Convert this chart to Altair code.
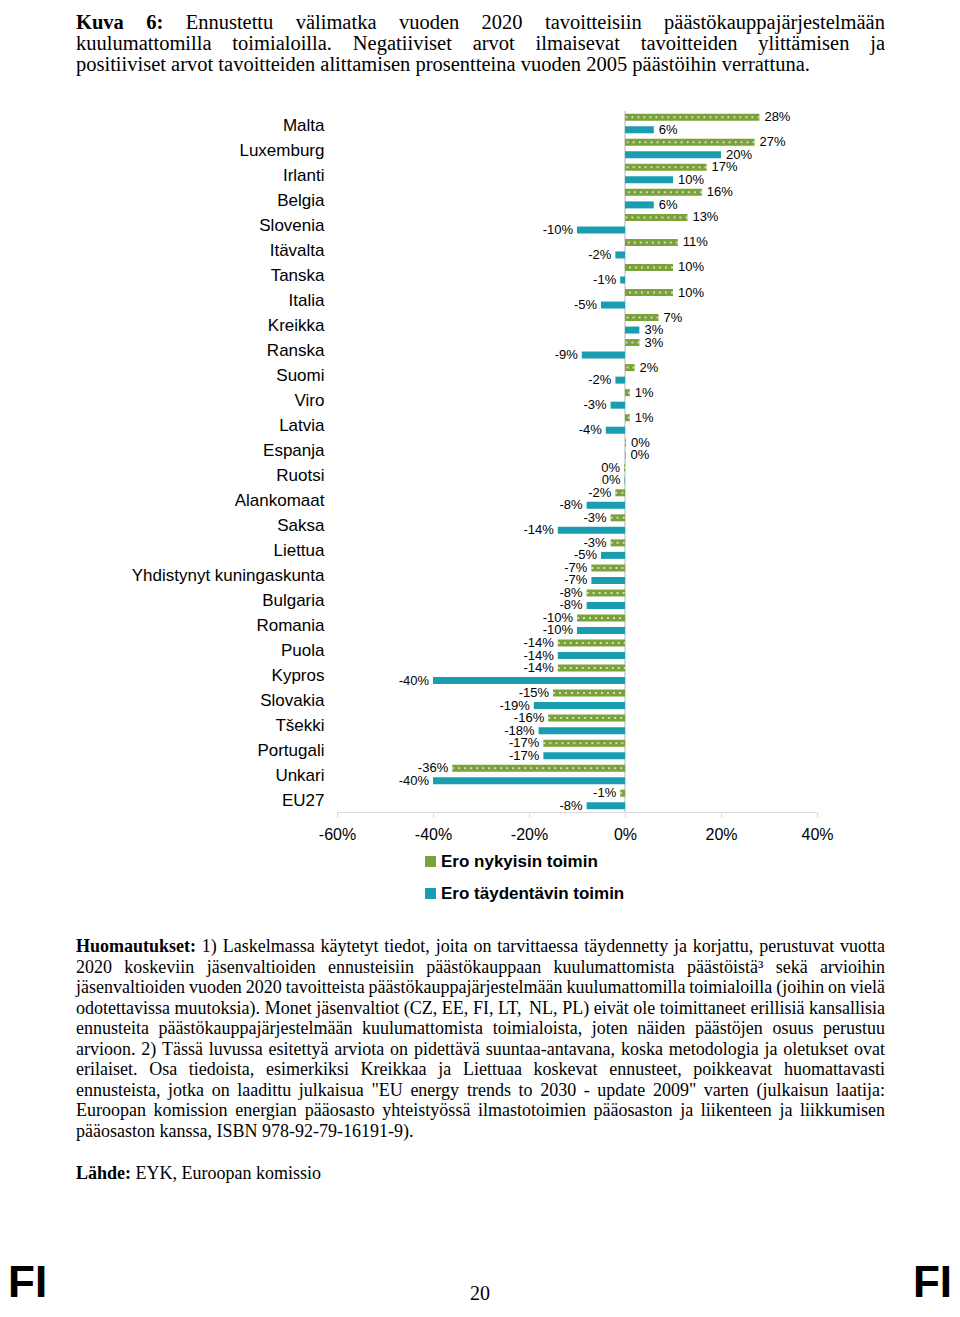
import altair as alt
import pandas as pd

# ---------------- data ----------------
countries = ["Malta", "Luxemburg", "Irlanti", "Belgia", "Slovenia", "Itävalta", "Tanska",
             "Italia", "Kreikka", "Ranska", "Suomi", "Viro", "Latvia", "Espanja", "Ruotsi",
             "Alankomaat", "Saksa", "Liettua", "Yhdistynyt kuningaskunta", "Bulgaria",
             "Romania", "Puola", "Kypros", "Slovakia", "Tšekki", "Portugali", "Unkari", "EU27"]
current_measures = [28, 27, 17, 16, 13, 11, 10, 10, 7, 3, 2, 1, 1, 0.2, -0.2, -2, -3, -3,
                    -7, -8, -10, -14, -14, -15, -16, -17, -36, -1]
additional_measures = [6, 20, 10, 6, -10, -2, -1, -5, 3, -9, -2, -3, -4, 0.1, -0.1, -8, -14,
                       -5, -7, -8, -10, -14, -40, -19, -18, -17, -40, -8]
series = ["Ero nykyisin toimin", "Ero täydentävin toimin"]
x_ticks = [-60, -40, -20, 0, 20, 40]

title_lines = [
    "Kuva 6: Ennustettu välimatka vuoden 2020 tavoitteisiin päästökauppajärjestelmään",
    "kuulumattomilla toimialoilla. Negatiiviset arvot ilmaisevat tavoitteiden ylittämisen ja",
    "positiiviset arvot tavoitteiden alittamisen prosentteina vuoden 2005 päästöihin verrattuna.",
]
note_lines = [
    "Huomautukset: 1) Laskelmassa käytetyt tiedot, joita on tarvittaessa täydennetty ja korjattu, perustuvat vuotta",
    "2020 koskeviin jäsenvaltioiden ennusteisiin päästökauppaan kuulumattomista päästöistä³ sekä arvioihin",
    "jäsenvaltioiden vuoden 2020 tavoitteista päästökauppajärjestelmään kuulumattomilla toimialoilla (joihin on vielä",
    "odotettavissa muutoksia). Monet jäsenvaltiot (CZ, EE, FI, LT, NL, PL) eivät ole toimittaneet erillisiä kansallisia",
    "ennusteita päästökauppajärjestelmään kuulumattomista toimialoista, joten näiden päästöjen osuus perustuu",
    "arvioon. 2) Tässä luvussa esitettyä arviota on pidettävä suuntaa-antavana, koska metodologia ja oletukset ovat",
    "erilaiset. Osa tiedoista, esimerkiksi Kreikkaa ja Liettuaa koskevat ennusteet, poikkeavat huomattavasti",
    "ennusteista, jotka on laadittu julkaisua \"EU energy trends to 2030 - update 2009\" varten (julkaisun laatija:",
    "Euroopan komission energian pääosasto yhteistyössä ilmastotoimien pääosaston ja liikenteen ja liikkumisen",
    "pääosaston kanssa, ISBN 978-92-79-16191-9).",
]
source_line = "Lähde: EYK, Euroopan komissio"
page_number = "20"
corner_mark = "FI"
bold_words = {"Kuva", "6:", "Huomautukset:", "Lähde:"}

GREEN = "#7AA13A"
TEAL = "#1A9CB1"

# ---------------- chart table ----------------
rows = []
for c, g, t in zip(countries, current_measures, additional_measures):
    for s, v in ((series[0], g), (series[1], t)):
        rows.append({"country": c, "series": s, "value": v, "label": f"{round(v)}%"})
df = pd.DataFrame(rows)

# ---------------- text layout (Times metrics) ----------------
OX, OY = 337, 111  # page position of the plot area
REG = {' ': 250, 'a': 444, 'b': 500, 'c': 444, 'd': 500, 'e': 444, 'f': 333, 'g': 500, 'h': 500,
       'i': 278, 'j': 278, 'k': 500, 'l': 278, 'm': 778, 'n': 500, 'o': 500, 'p': 500, 'q': 500,
       'r': 333, 's': 389, 't': 278, 'u': 500, 'v': 500, 'w': 722, 'x': 500, 'y': 500, 'z': 444,
       'ä': 444, 'ö': 500, 'å': 444, 'A': 722, 'B': 667, 'C': 667, 'D': 722, 'E': 611, 'F': 556,
       'G': 722, 'H': 722, 'I': 333, 'J': 389, 'K': 722, 'L': 611, 'M': 889, 'N': 722, 'O': 722,
       'P': 556, 'Q': 722, 'R': 667, 'S': 556, 'T': 611, 'U': 722, 'V': 722, 'W': 944, 'X': 722,
       'Y': 722, 'Z': 611, '.': 250, ',': 250, ':': 278, ';': 278, '(': 333, ')': 333, '-': 333,
       '"': 408, '³': 300}
BLD = {'H': 778, 'u': 556, 'o': 500, 'm': 833, 'a': 500, 't': 333, 'k': 556, 's': 389, 'e': 444,
       ':': 333, 'K': 778, 'v': 500, '6': 500, 'L': 667, 'ä': 500, 'h': 556, 'd': 556}


def layout(line, left, right, base_y, size, justify):
    words = line.split(" ")
    widths = []
    for w in words:
        table = BLD if w in bold_words else REG
        widths.append(sum(table.get(ch, 500) for ch in w) * size / 1000.0)
    if justify and len(words) > 1:
        gap = (right - left - sum(widths)) / (len(words) - 1)
    else:
        gap = 250 * size / 1000.0
    out = []
    x = left
    for w, wd in zip(words, widths):
        out.append({"px": x - OX, "py": base_y - OY, "word": w, "fs": size, "bold": w in bold_words})
        x += wd + gap
    return out


words = []
title_baselines = [29, 50, 71]
for i, ln in enumerate(title_lines):
    words += layout(ln, 76, 885, title_baselines[i], 20.5, i < len(title_lines) - 1)
for i, ln in enumerate(note_lines):
    words += layout(ln, 76, 885, 952 + 20.5 * i, 18, i < len(note_lines) - 1)
words += layout(source_line, 76, 885, 1179, 18, False)
words += layout(page_number, 470, 490, 1300, 20, False)
words_df = pd.DataFrame(words)

# ---------------- chart layers ----------------
font = "Liberation Sans"
y_enc = alt.Y("country:N", sort=countries,
              scale=alt.Scale(paddingInner=0, paddingOuter=0),
              axis=alt.Axis(title=None, domain=False, ticks=False, tickSize=0, labelPadding=13,
                            labelOffset=2, labelFontSize=17, labelFont=font, labelColor="black",
                            labelLimit=400))
yoff_enc = alt.YOffset("series:N", sort=series, scale=alt.Scale(paddingInner=0.44, paddingOuter=0.22))
x_enc = alt.X("value:Q", stack=None,
              scale=alt.Scale(domain=[-60, 40], nice=False),
              axis=alt.Axis(values=x_ticks, labelExpr="datum.value + '%'", grid=False, title=None,
                            domainColor="#d9d9d9", tickColor="#d9d9d9", tickSize=5,
                            labelFlush=False, labelOverlap=False,
                            labelFontSize=16, labelFont=font, labelColor="black", labelPadding=9))

base = alt.Chart(df)

zero = base.mark_rule(color="#d9d9d9", strokeWidth=1).encode(x=alt.datum(0))

bars = base.mark_bar().encode(
    y=y_enc, yOffset=yoff_enc, x=x_enc,
    color=alt.Color("series:N", sort=series,
                    scale=alt.Scale(domain=series, range=[GREEN, TEAL]),
                    legend=alt.Legend(title=None, orient="none", legendX=85, legendY=742,
                                      direction="vertical", symbolType="square", symbolSize=121,
                                      symbolStrokeWidth=0, labelFontSize=17, labelFontWeight="bold",
                                      labelFont=font, labelColor="black", rowPadding=14,
                                      labelOffset=2, labelLimit=400, padding=0)),
)

pattern = base.transform_filter(alt.datum.series == series[0]).mark_rule(
    color="white", strokeDash=[2, 4], strokeWidth=2, opacity=0.65
).encode(y=y_enc, yOffset=yoff_enc, x=x_enc, x2=alt.datum(0))

lab_pos = base.transform_filter("datum.value >= 0").mark_text(
    align="left", baseline="middle", dx=5, fontSize=13, font=font, color="black"
).encode(y=y_enc, yOffset=yoff_enc, x=x_enc, text="label:N")

lab_neg = base.transform_filter("datum.value < 0").mark_text(
    align="right", baseline="middle", dx=-4, fontSize=13, font=font, color="black"
).encode(y=y_enc, yOffset=yoff_enc, x=x_enc, text="label:N")

plot = alt.layer(zero, bars, pattern, lab_pos, lab_neg)

tbase = alt.Chart(words_df)
txt_enc = dict(x=alt.X("px:Q", scale=None, axis=None),
               y=alt.Y("py:Q", scale=None, axis=None),
               size=alt.Size("fs:Q", scale=None, legend=None),
               text="word:N")
text_reg = tbase.transform_filter("!datum.bold").mark_text(
    align="left", baseline="alphabetic", font="Liberation Serif", color="black"
).encode(**txt_enc)
text_bold = tbase.transform_filter("datum.bold").mark_text(
    align="left", baseline="alphabetic", font="Liberation Serif", fontWeight="bold", color="black"
).encode(**txt_enc)

corner_df = pd.DataFrame({"t": [corner_mark]})
fi_left = alt.Chart(corner_df).mark_text(
    align="left", baseline="alphabetic", font=font, fontWeight="bold", fontSize=44, color="black"
).encode(x=alt.value(8 - OX), y=alt.value(1297 - OY), text="t:N")
fi_right = alt.Chart(corner_df).mark_text(
    align="right", baseline="alphabetic", font=font, fontWeight="bold", fontSize=44, color="black"
).encode(x=alt.value(952 - OX), y=alt.value(1297 - OY), text="t:N")

chart = alt.layer(plot, text_reg, text_bold, fi_left, fi_right).resolve_scale(
    x="independent", y="independent"
).properties(
    width=480, height=701,
    autosize=alt.AutoSizeParams(type="none"),
    padding={"left": 329, "top": 103, "right": 135, "bottom": 497},
    background="white",
).configure_view(stroke=None)

chart.save("out.html", embed_options={"renderer": "svg", "actions": False})
